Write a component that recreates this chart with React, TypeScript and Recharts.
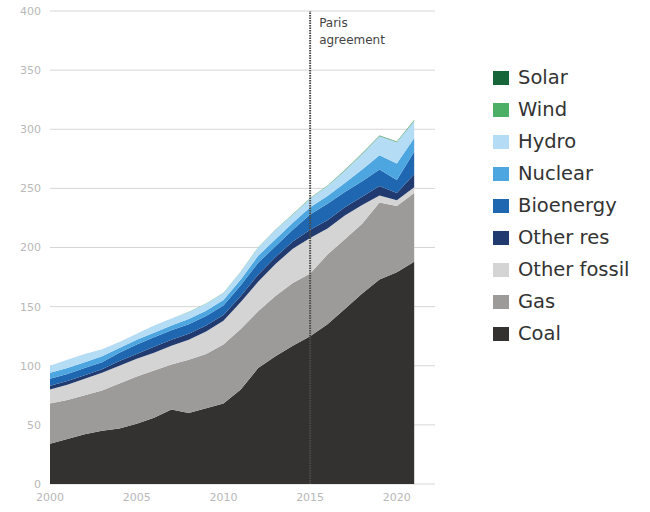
import { AreaChart, Area, XAxis, YAxis, CartesianGrid, ReferenceLine } from "recharts";

const years = [2000, 2001, 2002, 2003, 2004, 2005, 2006, 2007, 2008, 2009, 2010, 2011, 2012, 2013, 2014, 2015, 2016, 2017, 2018, 2019, 2020, 2021];
const coal = [34, 38, 42, 45, 47, 51, 56, 63, 60, 64, 68, 80, 98, 108, 117, 125, 135, 148, 161, 173, 179, 188];
const gas = [34, 33, 33, 34, 38, 40, 40, 38, 45, 46, 50, 51, 48, 51, 53, 53, 59, 59, 59, 65, 56, 58];
const otherFossil = [12, 13, 14, 15, 15, 15, 15, 16, 17, 19, 20, 23, 25, 27, 29, 30, 22, 20, 16, 6, 5, 5];
const otherRes = [3, 3, 3, 3, 4, 4, 5, 5, 5, 5, 5, 5, 6, 6, 6, 7, 7, 7, 7, 8, 6, 11];
const bioenergy = [6, 6, 6, 6, 7, 8, 8, 8, 8, 8, 8, 9, 10, 9, 10, 13, 14, 13, 13, 14, 11, 19];
const nuclear = [5, 5, 5, 5, 4, 4, 4, 4, 4.5, 4.5, 4.5, 5, 6, 6, 6, 6, 6.5, 7.5, 10, 12, 14, 11.5];
const hydro = [6, 7, 7, 6, 5, 5, 6, 6, 6, 6, 6, 6.5, 7, 8, 7, 7.5, 8.5, 10.5, 13, 16, 18, 14.5];
const wind = [0, 0, 0, 0, 0, 0, 0, 0, 0.2, 0.2, 0.2, 0.2, 0.3, 0.3, 0.3, 0.3, 0.4, 0.4, 0.5, 0.5, 0.5, 0.6];
const solar = [0, 0, 0, 0, 0, 0, 0, 0, 0, 0, 0, 0, 0, 0, 0, 0.1, 0.1, 0.1, 0.2, 0.2, 0.2, 0.3];

const xTicks = [2000, 2005, 2010, 2015, 2020];
const yTicks = [0, 50, 100, 150, 200, 250, 300, 350, 400];

// bottom of the stack first
const series = [
  { key: "coal", name: "Coal", color: "#343131", values: coal },
  { key: "gas", name: "Gas", color: "#9d9a9a", values: gas },
  { key: "otherFossil", name: "Other fossil", color: "#d4d4d4", values: otherFossil },
  { key: "otherRes", name: "Other res", color: "#213b70", values: otherRes },
  { key: "bioenergy", name: "Bioenergy", color: "#1f67b0", values: bioenergy },
  { key: "nuclear", name: "Nuclear", color: "#4ea6e0", values: nuclear },
  { key: "hydro", name: "Hydro", color: "#b5dcf5", values: hydro },
  { key: "wind", name: "Wind", color: "#4caf65", values: wind },
  { key: "solar", name: "Solar", color: "#17663a", values: solar },
];

const data = years.map((year, i) => {
  const row: any = { year };
  series.forEach(s => { row[s.key] = s.values[i]; });
  return row;
});

const font = "'DejaVu Sans', sans-serif";
const tickStyle = { fill: "#b8b8b8", fontSize: 11, fontFamily: font };

function LegendBox() {
  return (
    <div style={{ position: "absolute", left: 493, top: 62, fontFamily: font }}>
      {[...series].reverse().map(s => (
        <div key={s.key} style={{ display: "flex", alignItems: "center", height: 32 }}>
          <span style={{ width: 16, height: 14, background: s.color, display: "inline-block", marginRight: 9 }} />
          <span style={{ fontSize: 19.5, color: "#333", lineHeight: "32px" }}>{s.name}</span>
        </div>
      ))}
    </div>
  );
}

function ParisLabel(props: any) {
  const x = props.viewBox?.x ?? 0;
  const y = props.viewBox?.y ?? 0;
  return (
    <g>
      <text x={x + 9} y={y + 16} fontSize={12} fontFamily={font} fill="#444">Paris</text>
      <text x={x + 9} y={y + 33} fontSize={12} fontFamily={font} fill="#444">agreement</text>
    </g>
  );
}

export default function App() {
  return (
    <div style={{ position: "absolute", left: 0, top: 0, width: 650, height: 512, background: "#fff" }}>
      <AreaChart width={650} height={512} data={data} margin={{ top: 11, right: 215, bottom: 0, left: 10 }}>
        <CartesianGrid vertical={false} stroke="#d6d6d6" />
        <XAxis dataKey="year" type="number" domain={[2000, 2022.2]} ticks={xTicks} tick={tickStyle}
          axisLine={false} tickLine={false} tickSize={0} tickMargin={9} height={28} />
        <YAxis domain={[0, 400]} ticks={yTicks} tick={tickStyle} axisLine={false} tickLine={false}
          tickSize={0} tickMargin={9} width={40} />
        {series.map(s => (
          <Area key={s.key} type="linear" dataKey={s.key} name={s.name} stackId="1" stroke="none"
            fill={s.color} fillOpacity={1} isAnimationActive={false} />
        ))}
        <ReferenceLine x={2015} stroke="#4a4a4a" strokeWidth={2} strokeDasharray="1.5 1"
          label={{ content: ParisLabel }} />
      </AreaChart>
      <LegendBox />
    </div>
  );
}
